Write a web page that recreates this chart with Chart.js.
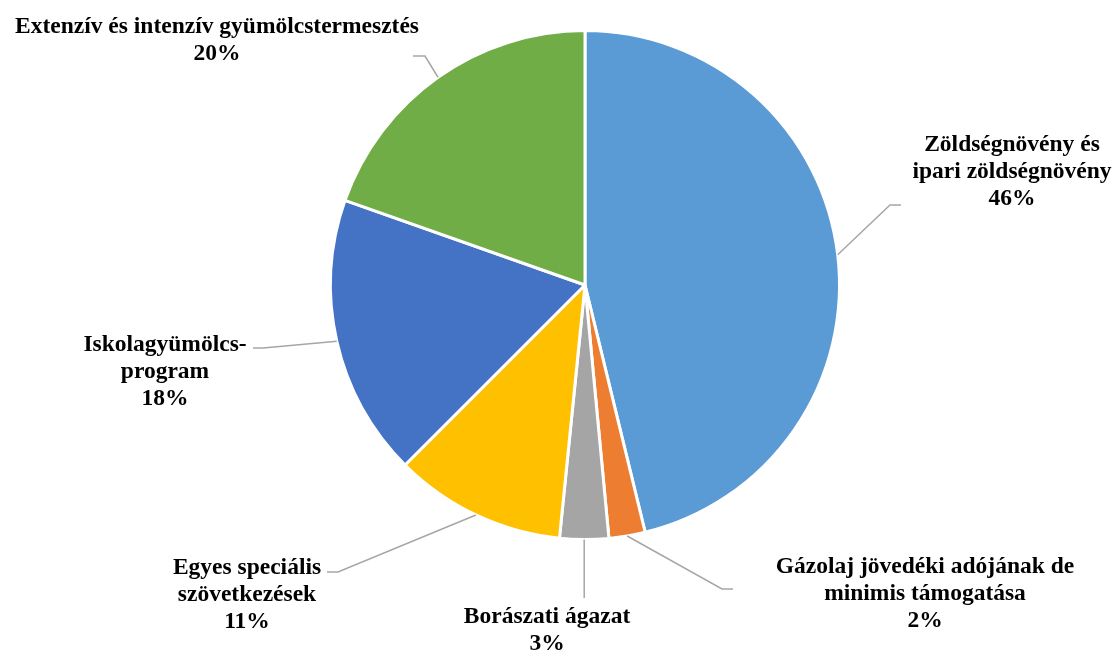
<!DOCTYPE html>
<html lang="hu">
<head>
<meta charset="utf-8">
<title>Támogatások megoszlása</title>
<script src="https://cdn.jsdelivr.net/npm/chart.js@4.4.1/dist/chart.umd.min.js"></script>
<style>
  html, body { margin: 0; padding: 0; background: #ffffff; }
  #wrap { width: 1117px; height: 653px; }
</style>
</head>
<body>
<div id="wrap"><canvas id="pieChart" width="1117" height="653"></canvas></div>
<script>
// Categories (clockwise from 12 o'clock), line breaks as in the original labels
const categories = [
  'Zöldségnövény és\nipari zöldségnövény',
  'Gázolaj jövedéki adójának de\nminimis támogatása',
  'Borászati ágazat',
  'Egyes speciális\nszövetkezések',
  'Iskolagyümölcs-\nprogram',
  'Extenzív és intenzív gyümölcstermesztés'
];

// Share of each item (%)
const shares = [46.2, 2.3, 3.1, 10.9, 17.9, 19.6];

const sliceColors = ['#5B9BD5', '#ED7D31', '#A5A5A5', '#FFC000', '#4472C4', '#70AD47'];

// Where each label sits: text centre x, first line y, leader elbow and end
const labelLayout = [
  { cx: 1012, y: 143, elbow: [890, 205], end: [901, 205] },
  { cx: 925,  y: 565, elbow: [722, 589], end: [733, 589] },
  { cx: 547,  y: 615, elbow: null,       end: [0, 598] },
  { cx: 247,  y: 566, elbow: [338, 572], end: [327, 572] },
  { cx: 165,  y: 343, elbow: [263, 348], end: [253, 348] },
  { cx: 217,  y: 25,  elbow: [425, 56],  end: [413, 56] }
];

const LINE_H = 27;
const FONT = 'bold 23.5px "Liberation Serif", "Times New Roman", serif';

// Draws the outside labels with the grey leader lines
const leaderLabels = {
  id: 'leaderLabels',
  afterDatasetsDraw(chart) {
    const ctx = chart.ctx;
    const meta = chart.getDatasetMeta(0);
    const total = shares.reduce((a, b) => a + b, 0);

    meta.data.forEach((arc, i) => {
      const p = arc.getProps(['x', 'y', 'startAngle', 'endAngle', 'outerRadius'], true);
      const mid = (p.startAngle + p.endAngle) / 2;
      const sx = p.x + Math.cos(mid) * p.outerRadius;
      const sy = p.y + Math.sin(mid) * p.outerRadius;
      const lay = labelLayout[i];

      ctx.save();
      ctx.strokeStyle = '#A6A6A6';
      ctx.lineWidth = 1.5;
      ctx.beginPath();
      ctx.moveTo(sx, sy);
      if (lay.elbow) {
        ctx.lineTo(lay.elbow[0], lay.elbow[1]);
        ctx.lineTo(lay.end[0], lay.end[1]);
      } else {
        // straight drop below the slice
        ctx.lineTo(sx, lay.end[1]);
      }
      ctx.stroke();

      const pct = Math.round(shares[i] / total * 100) + '%';
      const lines = categories[i].split('\n').concat([pct]);
      ctx.fillStyle = '#000000';
      ctx.font = FONT;
      ctx.textAlign = 'center';
      ctx.textBaseline = 'middle';
      lines.forEach((t, k) => ctx.fillText(t, lay.cx, lay.y + 1.5 + k * LINE_H));
      ctx.restore();
    });
  }
};

new Chart(document.getElementById('pieChart').getContext('2d'), {
  type: 'pie',
  data: {
    labels: categories,
    datasets: [{
      data: shares,
      backgroundColor: sliceColors,
      borderColor: '#ffffff',
      borderWidth: 3
    }]
  },
  options: {
    responsive: false,
    animation: false,
    layout: {
      padding: { left: 329, right: 276, top: 29, bottom: 112 }
    },
    plugins: {
      legend: { display: false },
      tooltip: { enabled: false }
    }
  },
  plugins: [leaderLabels]
});
</script>
</body>
</html>
